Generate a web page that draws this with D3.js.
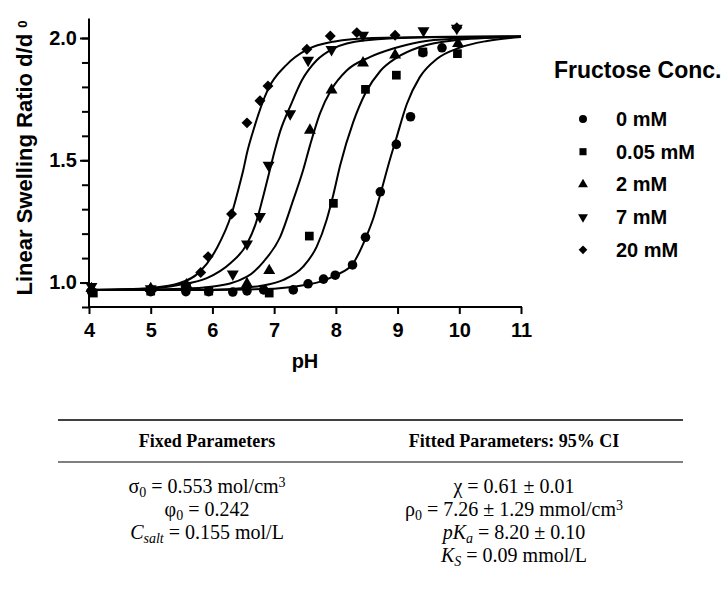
<!DOCTYPE html>
<html>
<head>
<meta charset="utf-8">
<script src="https://cdn.jsdelivr.net/npm/d3@7"></script>
<style>
  body { margin: 0; background: #fff; }
  svg { display: block; }
  .axis path, .axis line { stroke: #000; stroke-width: 2; }
  .axis text { font-family: "Liberation Sans", Arial, sans-serif; font-weight: bold; font-size: 20px; fill: #000; }
</style>
</head>
<body>
<svg id="chart" width="725" height="589"></svg>
<script>
// series: fructose concentrations, points as [pH, d/d0]
const seriesNames = ["0 mM", "0.05 mM", "2 mM", "7 mM", "20 mM"];
const seriesSymbols = ["circle", "square", "up", "down", "diamond"];

const pts0 = [[4.04,0.963],[5.0,0.963],[5.57,0.963],[5.94,0.963],[6.33,0.961],[6.56,0.966],[6.83,0.970],[7.31,0.970],[7.55,0.995],[7.80,1.014],[7.99,1.03],[8.27,1.072],[8.48,1.185],[8.72,1.371],[8.98,1.565],[9.21,1.678],[9.41,1.94],[9.72,1.96]];
const pts005 = [[4.07,0.957],[5.0,0.965],[5.94,0.965],[6.92,0.957],[7.57,1.19],[7.96,1.324],[8.48,1.79],[8.98,1.848],[9.41,1.943],[9.97,1.936]];
const pts2 = [[4.04,0.975],[5.0,0.975],[5.58,0.99],[6.56,0.995],[6.92,1.049],[7.58,1.623],[7.93,1.787],[8.44,1.898],[8.96,1.93],[9.98,1.977]];
const pts7 = [[4.04,0.984],[5.0,0.975],[5.57,0.985],[6.33,1.035],[6.56,1.158],[6.77,1.27],[6.91,1.48],[7.26,1.69],[7.55,1.909],[7.93,1.953],[8.44,2.011],[9.42,2.03],[9.96,2.04]];
const pts20 = [[4.04,0.97],[5.0,0.975],[5.57,0.985],[5.81,1.041],[5.93,1.106],[6.31,1.28],[6.56,1.653],[6.77,1.743],[6.9,1.804],[7.53,1.954],[7.91,2.008],[8.34,2.022],[8.96,2.011],[9.96,2.042]];

// fitted curves
const fit0 = [[4,0.970],[6,0.970],[7,0.975],[7.5,0.990],[7.8,1.008],[8.0,1.030],[8.27,1.075],[8.48,1.180],[8.61,1.265],[8.72,1.360],[8.85,1.480],[8.98,1.590],[9.15,1.730],[9.36,1.840],[9.64,1.915],[10.0,1.960],[10.45,1.988],[11,2.004]];
const fit005 = [[4,0.970],[6,0.971],[6.5,0.978],[6.77,0.986],[7.15,1.011],[7.47,1.065],[7.69,1.147],[7.85,1.256],[7.96,1.36],[8.07,1.48],[8.28,1.655],[8.48,1.775],[8.72,1.865],[8.99,1.92],[9.36,1.963],[9.9,1.99],[11,2.005]];
const fit2 = [[4,0.970],[5.5,0.975],[6.01,0.984],[6.56,1.024],[6.83,1.086],[7.1,1.188],[7.31,1.338],[7.47,1.46],[7.58,1.56],[7.74,1.69],[7.93,1.79],[8.18,1.868],[8.55,1.922],[8.93,1.957],[9.36,1.984],[10,1.998],[11,2.005]];
const fit7 = [[4,0.970],[5.0,0.976],[5.47,0.991],[5.91,1.018],[6.29,1.079],[6.56,1.158],[6.70,1.24],[6.80,1.33],[6.91,1.44],[7.01,1.54],[7.1,1.62],[7.26,1.72],[7.45,1.827],[7.69,1.909],[7.96,1.957],[8.45,1.99],[9.5,2.003],[11,2.006]];
const fit20 = [[4,0.970],[4.5,0.972],[5.0,0.978],[5.47,0.998],[5.80,1.045],[6.07,1.14],[6.31,1.28],[6.43,1.39],[6.5,1.46],[6.56,1.53],[6.66,1.62],[6.9,1.79],[7.2,1.89],[7.53,1.952],[7.96,1.985],[8.6,2.0],[11,2.007]];

const seriesPts = [pts0, pts005, pts2, pts7, pts20];
const seriesFits = [fit0, fit005, fit2, fit7, fit20];

const xTicks = [4, 5, 6, 7, 8, 9, 10, 11];
const yTicks = [1.0, 1.5, 2.0];
const yMinor = [0.9, 1.0, 1.1, 1.2, 1.3, 1.4, 1.5, 1.6, 1.7, 1.8, 1.9, 2.0];

// parameter table
const tableHeaders = ["Fixed Parameters", "Fitted Parameters: 95% CI"];
const fixedParams = [
  [{t:"σ"},{t:"0",sub:1},{t:" = 0.553 mol/cm"},{t:"3",sup:1}],
  [{t:"φ"},{t:"0",sub:1},{t:" = 0.242"}],
  [{t:"C",it:1},{t:"salt",sub:1,it:1},{t:" = 0.155 mol/L"}]
];
const fittedParams = [
  [{t:"χ = 0.61 ± 0.01"}],
  [{t:"ρ"},{t:"0",sub:1},{t:" = 7.26 ± 1.29 mmol/cm"},{t:"3",sup:1}],
  [{t:"pK",it:1},{t:"a",sub:1,it:1},{t:" = 8.20 ± 0.10"}],
  [{t:"K",it:1},{t:"S",sub:1,it:1},{t:" = 0.09 mmol/L"}]
];

const svg = d3.select("#chart");
const x = d3.scaleLinear().domain([4, 11]).range([89, 521]);
const y = d3.scaleLinear().domain([0.9, 2.0]).range([307, 38]);
const sans = "Liberation Sans, Arial, sans-serif";

// y axis
const yAxisG = svg.append("g").attr("class", "axis").attr("transform", "translate(89,0)");
yAxisG.call(d3.axisLeft(y).tickValues(yMinor).tickSize(7).tickFormat(""));
yAxisG.call(g => g.select(".domain").remove());
const yMajor = svg.append("g").attr("class", "axis").attr("transform", "translate(89,0)")
  .call(d3.axisLeft(y).tickValues(yTicks).tickSize(9).tickPadding(3).tickFormat(d3.format(".1f")));
yMajor.select(".domain").remove();
svg.append("line").attr("x1", 89).attr("x2", 89).attr("y1", y(0.9) + 1).attr("y2", y(2.08))
  .attr("stroke", "#000").attr("stroke-width", 2);

// x axis
const xAxisG = svg.append("g").attr("class", "axis").attr("transform", `translate(0,${y(0.9)})`)
  .call(d3.axisBottom(x).tickValues(xTicks).tickSize(7).tickPadding(9).tickFormat(d3.format("d")));
xAxisG.select(".domain").attr("d", `M${x(4) - 1},0H${x(11) + 1}`);

// axis titles
svg.append("text").attr("x", x(7.5)).attr("y", 368).attr("text-anchor", "middle")
  .style("font-family", sans).style("font-weight", "bold").style("font-size", "20px")
  .text("pH");
const yt = svg.append("text").attr("transform", "translate(32,158) rotate(-90)").attr("text-anchor", "middle")
  .style("font-family", sans).style("font-weight", "bold").style("font-size", "22px");
yt.append("tspan").text("Linear Swelling Ratio d/d ");
yt.append("tspan").attr("dy", -5).style("font-size", "13px").text("0");

// fitted curves
const line = d3.line().x(d => x(d[0])).y(d => y(d[1])).curve(d3.curveMonotoneX);
svg.append("g").selectAll("path").data(seriesFits).join("path")
  .attr("d", line).attr("fill", "none").attr("stroke", "#000").attr("stroke-width", 2);

// markers
function symbolPath(s, size) {
  if (s === "circle") return d3.symbol(d3.symbolCircle, size)();
  if (s === "up" || s === "down") return d3.symbol(d3.symbolTriangle, size)();
  return d3.symbol(d3.symbolSquare, size)();
}
function symbolRot(s) {
  if (s === "down") return " rotate(180)";
  if (s === "diamond") return " rotate(45)";
  return "";
}
const symSizes = [72, 76, 62, 62, 60];
seriesPts.forEach((pts, i) => {
  svg.append("g").selectAll("path").data(pts).join("path")
    .attr("d", symbolPath(seriesSymbols[i], symSizes[i]))
    .attr("transform", d => `translate(${x(d[0])},${y(d[1])})` + symbolRot(seriesSymbols[i]))
    .attr("fill", "#000");
});

// legend
const legend = svg.append("g");
legend.append("text").attr("x", 554).attr("y", 78)
  .style("font-family", sans).style("font-weight", "bold").style("font-size", "23px")
  .text("Fructose Conc.");
const legSizes = [50, 50, 42, 42, 38];
seriesNames.forEach((name, i) => {
  const ly = 119 + i * 32.7;
  legend.append("path").attr("d", symbolPath(seriesSymbols[i], legSizes[i]))
    .attr("transform", `translate(583,${ly})` + symbolRot(seriesSymbols[i]))
    .attr("fill", "#000");
  legend.append("text").attr("x", 616).attr("y", ly + 7)
    .style("font-family", sans).style("font-weight", "bold").style("font-size", "20px")
    .text(name);
});

// table
const tbl = svg.append("g").style("font-family", "Liberation Serif, 'DejaVu Serif', serif");
tbl.append("line").attr("x1", 58).attr("x2", 683).attr("y1", 420).attr("y2", 420).attr("stroke", "#000").attr("stroke-width", 1.6);
tbl.append("line").attr("x1", 58).attr("x2", 683).attr("y1", 462).attr("y2", 462).attr("stroke", "#000").attr("stroke-width", 1);
const colX = [207, 514];
tableHeaders.forEach((h, i) => {
  tbl.append("text").attr("x", colX[i]).attr("y", 447).attr("text-anchor", "middle")
    .style("font-weight", "bold").style("font-size", "18px").text(h);
});
function richText(parts, cx, cy) {
  const t = tbl.append("text").attr("x", cx).attr("y", cy).attr("text-anchor", "middle").style("font-size", "20px");
  parts.forEach(p => {
    const ts = t.append("tspan").text(p.t);
    if (p.it) ts.style("font-style", "italic");
    if (p.sub) ts.attr("baseline-shift", "-25%").style("font-size", "14px");
    if (p.sup) ts.attr("baseline-shift", "40%").style("font-size", "14px");
  });
}
fixedParams.forEach((r, i) => richText(r, colX[0], 493 + i * 23));
fittedParams.forEach((r, i) => richText(r, colX[1], 493 + i * 23));
</script>
</body>
</html>
